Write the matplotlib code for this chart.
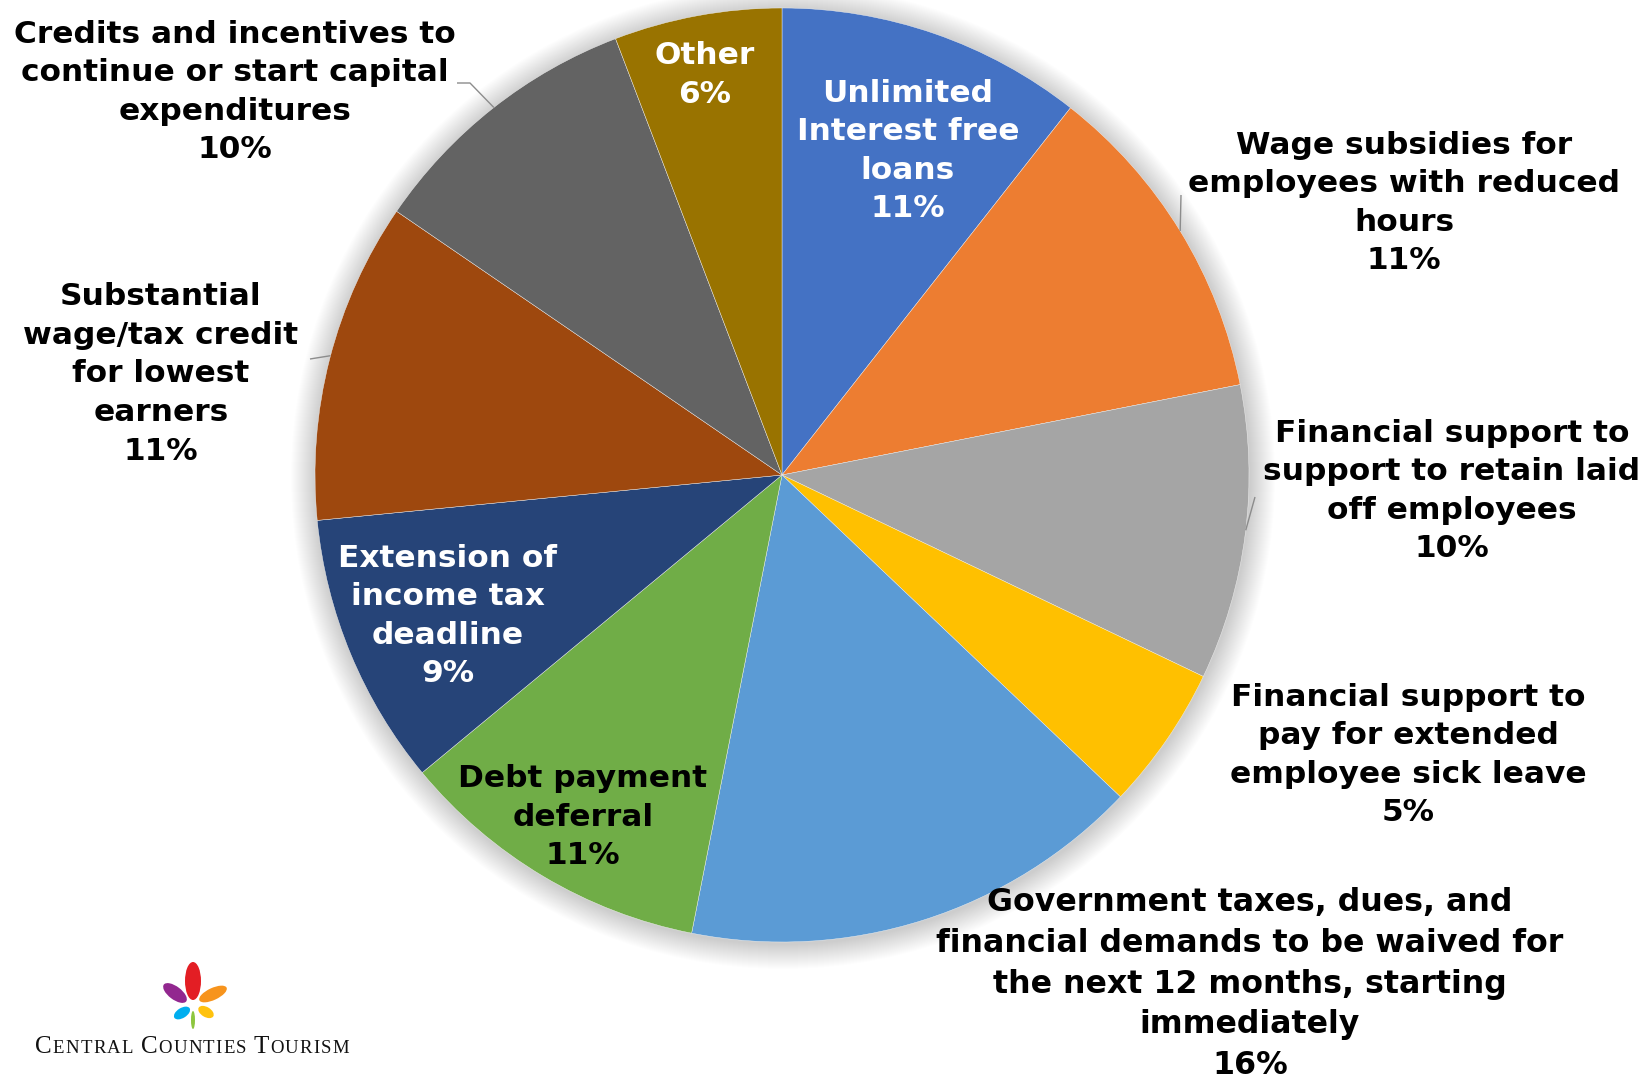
import matplotlib
matplotlib.use("Agg")
import matplotlib.pyplot as plt
import numpy as np
from matplotlib.patches import Circle, Ellipse
from matplotlib.offsetbox import TextArea, HPacker, AnnotationBbox

# ---------------- data ----------------
categories = [
    "Unlimited\nInterest free\nloans",
    "Wage subsidies for\nemployees with reduced\nhours",
    "Financial support to\nsupport to retain laid\noff employees",
    "Financial support to\npay for extended\nemployee sick leave",
    "Government taxes, dues, and\nfinancial demands to be waived for\nthe next 12 months, starting\nimmediately",
    "Debt payment\ndeferral",
    "Extension of\nincome tax\ndeadline",
    "Substantial\nwage/tax credit\nfor lowest\nearners",
    "Credits and incentives to\ncontinue or start capital\nexpenditures",
    "Other",
]
shares = [10.6, 11.3, 10.2, 5.0, 16.0, 10.9, 9.45, 11.1, 9.65, 5.8]

colors = ["#4472C4", "#ED7D31", "#A5A5A5", "#FFC000", "#5B9BD5",
          "#70AD47", "#264478", "#9E480E", "#636363", "#997300"]

# label layout (pixel positions, colours, sizes)
label_pos = [(908, 151), (1404, 203), (1452, 491), (1408, 755), (1250, 984),
             (583, 817), (448, 616), (161, 374), (235, 92), (705, 75)]
label_col = ["white", "black", "black", "black", "black",
             "black", "white", "black", "black", "white"]
label_size = [22.5, 22.5, 22.5, 22.5, 22.8, 22.5, 22.5, 22.5, 22.5, 22.5]

W, H = 1646, 1078
CX, CY, R = 782, 475, 467

fig = plt.figure(figsize=(W / 100, H / 100), dpi=100)
ax = fig.add_axes([0, 0, 1, 1])

# soft outer glow around the pie
for k in range(1, 26):
    ax.add_patch(Circle((CX + 1, CY + 2), R + k, facecolor="black", alpha=0.008,
                        edgecolor="none", zorder=0))

vals = np.array(shares)
pct = vals / vals.sum() * 100
wedges, _ = ax.pie(vals, colors=colors, startangle=-90, counterclock=True,
                   center=(CX, CY), radius=R,
                   wedgeprops=dict(edgecolor="#f2f2f2", linewidth=0.3))
for w in wedges:
    w.set_zorder(2)

ax.set_xlim(0, W)
ax.set_ylim(H, 0)
ax.set_aspect("equal")
ax.axis("off")

for i, (name, p) in enumerate(zip(categories, pct)):
    x, y = label_pos[i]
    fs = label_size[i]
    ax.text(x, y, f"{name}\n{p:.0f}%", ha="center", va="center",
            multialignment="center", color=label_col[i], fontweight="bold",
            family=["DejaVu Sans"], fontsize=fs,
            linespacing=1.42 * 22.5 / fs, zorder=5)

def edge(deg):
    a = np.deg2rad(deg)
    return CX + R * np.sin(a), CY - R * np.cos(a)

leaders = [
    (58.5, [(1181, 195)]),
    (96.8, [(1255, 497)]),
    (321.9, [(470, 83), (457, 83)]),
    (284.8, [(310, 359)]),
]
for deg, pts in leaders:
    ex, ey = edge(deg)
    xs = [ex] + [p[0] for p in pts]
    ys = [ey] + [p[1] for p in pts]
    ax.plot(xs, ys, color="#8c8c8c", lw=1.0, zorder=3, solid_capstyle="butt")

# logo
petals = [
    ((193, 981), 16, 38, 0, "#E31E24"),
    ((175, 993), 28, 13, 37, "#92278F"),
    ((213, 994), 30, 12, -25, "#F7941D"),
    ((182, 1013), 18, 10, -32, "#00AEEF"),
    ((206, 1012), 17, 10, 31, "#FFC20E"),
    ((193, 1020), 4, 18, 0, "#8DC63F"),
]
for c, w_, h_, ang, col in petals:
    ax.add_patch(Ellipse(c, w_, h_, angle=ang, facecolor=col, edgecolor="none", zorder=4))

words = ["CENTRAL", "COUNTIES", "TOURISM"]
areas = []
for wi, word in enumerate(words):
    for li, ch in enumerate(word):
        fs = 18 if li == 0 else 13.5
        areas.append(TextArea(ch, textprops=dict(fontsize=fs, family="Liberation Serif",
                                                 color="#111111")))
    if wi < len(words) - 1:
        areas.append(TextArea(" ", textprops=dict(fontsize=13.5, family="Liberation Serif")))
pack = HPacker(children=areas, align="baseline", pad=0, sep=0.9)
ab = AnnotationBbox(pack, (35, 1058), xycoords="data", box_alignment=(0, 0),
                    frameon=False, pad=0)
ax.add_artist(ab)

fig.savefig("out.png", dpi=100, facecolor="white")
